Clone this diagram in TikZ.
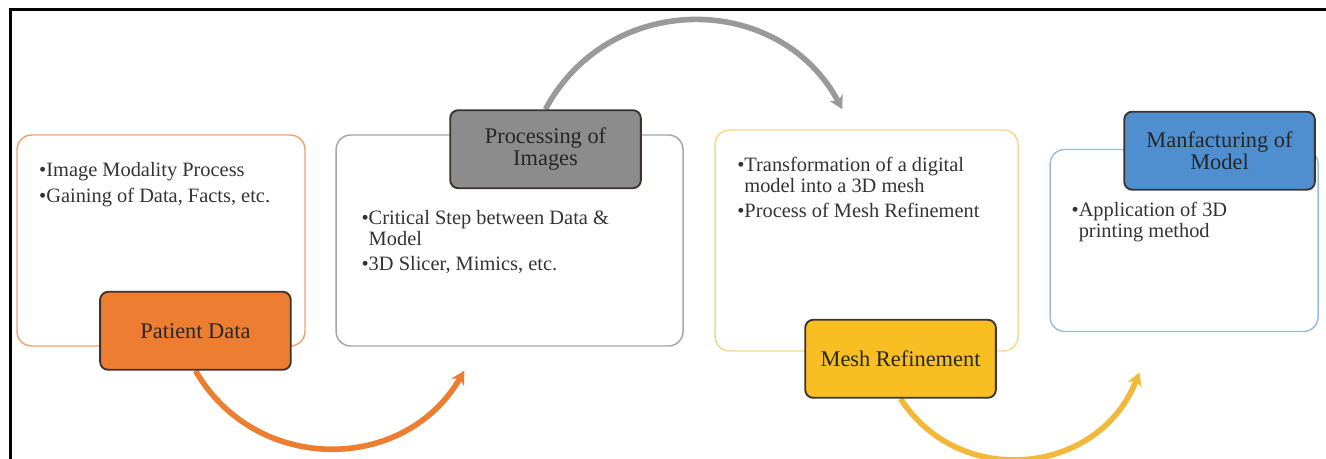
\documentclass[tikz,border=0pt]{standalone}
\usepackage{fontspec}
\setmainfont{Liberation Serif}
\usetikzlibrary{arrows.meta,positioning,calc,backgrounds}

\definecolor{patline}{HTML}{EFA36E}
\definecolor{patfill}{HTML}{ED7D31}
\definecolor{procline}{HTML}{A6A6A6}
\definecolor{procfill}{HTML}{8C8C8C}
\definecolor{procarrow}{HTML}{9A9A9A}
\definecolor{meshline}{HTML}{F3D88C}
\definecolor{meshfill}{HTML}{F9BE22}
\definecolor{mesharrow}{HTML}{F2B83A}
\definecolor{manufline}{HTML}{9BBDE0}
\definecolor{manuffill}{HTML}{4F8FCF}
\definecolor{tagline}{HTML}{3B342E}

\begin{document}
\begin{tikzpicture}[
    x=0.75pt, y=0.75pt,
    stage/.style={rectangle, draw, line width=1.1pt, rounded corners=11pt, inner sep=0pt},
    tag/.style={rectangle, draw=tagline, line width=1.4pt, rounded corners=6pt, minimum width=143pt, minimum height=58.5pt, align=center, text=black!85, font=\fontsize{16.8}{16.5}\selectfont},
    items/.style={inner sep=0pt, align=left, text=black!80, font=\fontsize{15.3}{15.5}\selectfont},
    flow/.style={line width=4.2pt, -{Stealth[length=10pt,width=11pt]}}
]
\useasboundingbox (0,0) rectangle (1326,-459);
\draw[line width=2.25pt] (10,-459) |- (1326,-10);

% stages
\node[stage, draw=patline, minimum width=216pt, minimum height=158.25pt] (patient) at (161,-240.5) {};
\node[stage, draw=procline, minimum width=260.25pt, minimum height=158.25pt, right=22.2pt of patient] (process) {};
\node[stage, draw=meshline, minimum width=227.25pt, minimum height=165.75pt, right=22.9pt of process] (mesh) {};
\node[stage, draw=manufline, minimum width=201pt, minimum height=136.5pt, right=22.9pt of mesh] (manuf) {};

% titles
\node[tag, fill=patfill, anchor=south east] (patienttag) at ($(patient.south east)+(-14,-24)$) {Patient Data};
\node[tag, fill=procfill, anchor=north east] (processtag) at ($(process.north east)+(-42,25)$) {Processing of\\Images};
\node[tag, fill=meshfill, anchor=south east] (meshtag) at ($(mesh.south east)+(-22,-47)$) {Mesh Refinement};
\node[tag, fill=manuffill, anchor=north east] (manuftag) at ($(manuf.north east)+(-3,38)$) {Manfacturing of\\Model};

% bullet texts
\node[items, below right=21pt and 17pt of patient.north west] (patientitems) {\textbullet Image Modality Process\\[3.5pt]\textbullet Gaining of Data, Facts, etc.};
\node[items, below right=57pt and 19.5pt of process.north west] (processitems) {\textbullet Critical Step between Data \&\\\phantom{\textbullet}Model\\[3.5pt]\textbullet 3D Slicer, Mimics, etc.};
\node[items, below right=21pt and 17pt of mesh.north west] (meshitems) {\textbullet Transformation of a digital\\\phantom{\textbullet}model into a 3D mesh\\[3.5pt]\textbullet Process of Mesh Refinement};
\node[items, below right=40pt and 16.5pt of manuf.north west] (manufitems) {\textbullet Application of 3D\\\phantom{\textbullet}printing method};

% curved arrows
\coordinate (patientend) at ($(process.south west)+(129,-24)$);
\coordinate (processend) at ($(mesh.north west)+(128,20)$);
\coordinate (meshend) at ($(manuf.south west)+(90,-40)$);
\begin{scope}[on background layer]
\draw[flow, draw=patfill] (patienttag.south) to[out=-60, in=-120, looseness=1.14] (patientend);
\draw[flow, draw=procarrow] (processtag.north) to[out=62, in=118, looseness=1.16] (processend);
\draw[flow, draw=mesharrow] (meshtag.south) to[out=-57, in=-111, looseness=1.17] (meshend);
\end{scope}
\end{tikzpicture}
\end{document}
